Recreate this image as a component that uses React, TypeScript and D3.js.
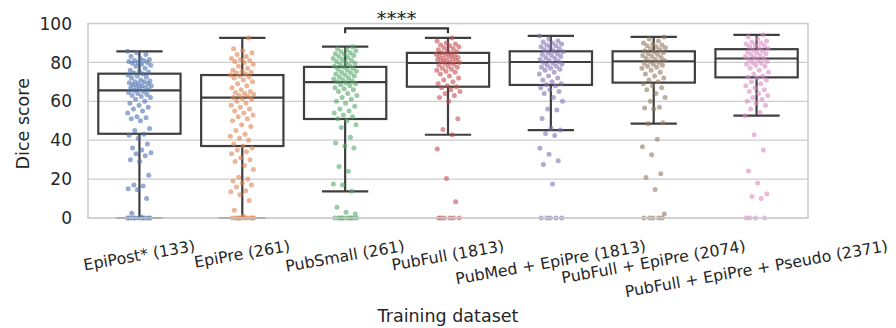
import * as d3 from 'd3';
import React, { useEffect } from 'react';

const categories = [
  'EpiPost* (133)',
  'EpiPre (261)',
  'PubSmall (261)',
  'PubFull (1813)',
  'PubMed + EpiPre (1813)',
  'PubFull + EpiPre (2074)',
  'PubFull + EpiPre + Pseudo (2371)',
];
const colors = ['#4c72b0', '#dd8452', '#55a868', '#c44e52', '#8172b3', '#937860', '#da8bc3'];

// box statistics
const whiskerLow = [0, 0, 13.7, 42.8, 45.2, 48.5, 52.6];
const q1 = [43.3, 37, 50.9, 67.5, 68.4, 69.6, 72.3];
const medians = [65.6, 61.9, 69.9, 79.7, 80.2, 80.6, 82];
const q3 = [74.2, 73.5, 77.7, 84.9, 85.7, 85.7, 86.8];
const whiskerHigh = [85.7, 92.6, 88.1, 92.6, 93.6, 93.1, 94.2];

// individual dice scores (strip points)
const epiPostScores = [
  0, 0, 0, 0, 0, 0, 0, 0, 0, 0.5, 2.5, 10, 14.5, 15, 16.5, 17, 22, 29, 30, 32, 33, 33.5, 35, 36, 38, 41, 42.5, 43,
  45, 46, 50, 51, 51.5, 52, 54, 55, 56, 57, 58, 59, 60, 61, 62, 62.5, 63, 63.5, 64, 64.5, 65, 65.5, 66, 66.5, 67, 67,
  67.5, 68, 68, 68.5, 69, 69, 69.5, 70, 70, 70.5, 71, 72, 72.5, 73, 73.5, 74, 74.5, 75, 75.5, 76, 77, 78, 78.5, 79,
  79.5, 80, 80, 80.5, 81, 81, 81.5, 82, 83, 84, 85, 85.7,
];
const epiPreScores = [
  0, 0, 0, 0, 0, 0, 0, 0, 0, 0, 1, 4, 9, 12, 13.5, 14, 16, 17, 18, 19, 20, 21, 25, 27, 29, 30, 31, 33, 34, 35, 36, 37,
  38, 40, 41, 42, 43, 45, 47, 48, 50, 51, 52, 53, 54, 55, 56, 57, 58, 59, 60, 61, 61.5, 62, 62.5, 63, 63.5, 64, 64.5,
  65, 66, 67, 68, 69, 70, 71, 72, 72.5, 73, 73.5, 74, 74.5, 75, 75.5, 76, 77, 78, 79, 80, 80.5, 81, 81.5, 82, 83, 84,
  85, 86, 87, 92.6,
];
const pubSmallScores = [
  0, 0, 0, 0, 0, 0, 0, 0, 0, 0, 2, 3, 5.5, 13.7, 17, 17.5, 24, 26.5, 36, 37, 38.5, 41.5, 46.5, 48, 50, 51, 52, 53, 54,
  55, 56, 57.5, 59, 60, 61, 62, 63, 64, 65, 66, 66.5, 67, 68, 68.5, 69, 69.5, 70, 70.5, 71, 71.5, 72, 72.5, 73, 73.5,
  74, 74.5, 75, 75.5, 76, 76.5, 77, 77.5, 78, 78.5, 79, 79.5, 80, 80.5, 81, 81.5, 82, 82.5, 83, 83.5, 84, 84.5, 85,
  85.5, 86, 86.5, 87, 88,
];
const pubFullScores = [
  0, 0, 0, 0, 0, 0, 8.4, 20.3, 35.5, 42.8, 45.5, 51, 60, 62, 63, 64, 65, 66, 67, 67.5, 68, 69, 70, 71, 72, 73, 74, 75,
  75.5, 76, 76.5, 77, 77.5, 78, 78.5, 79, 79.5, 80, 80, 80.5, 81, 81, 81.5, 82, 82, 82.5, 83, 83, 83.5, 84, 84, 84.5,
  85, 85.5, 86, 86.5, 87, 87.5, 88, 88.5, 89, 89.5, 90, 91, 92.6,
];
const pubMedEpiPreScores = [
  0, 0, 0, 0, 0, 17.5, 27.5, 29.4, 32.8, 35.9, 42.4, 43.4, 45.2, 46.2, 51.2, 55.5, 56, 60, 62, 64, 65, 66, 67, 68,
  68.5, 69, 70, 71, 72, 73, 74, 75, 76, 76.5, 77, 77.5, 78, 78.5, 79, 79.5, 80, 80.5, 81, 81.5, 82, 82.5, 83, 83.5, 84,
  84.5, 85, 85.5, 86, 86.5, 87, 87.5, 88, 88.5, 89, 89.5, 90, 90.5, 91, 92, 93.6,
];
const pubFullEpiPreScores = [
  0, 0, 0, 0, 0, 2, 14.6, 20.8, 22.8, 32.5, 36.6, 40.5, 48.5, 49, 56, 56.5, 57, 60, 62, 64, 66, 67, 68, 69, 70, 71, 72,
  73, 74, 75, 76, 77, 77.5, 78, 78.5, 79, 79.5, 80, 80.5, 81, 81.5, 82, 82.5, 83, 83.5, 84, 84.5, 85, 85.5, 86, 86.5,
  87, 87.5, 88, 88.5, 89, 89.5, 90, 91, 92, 93.1,
];
const pseudoScores = [
  0, 0, 0, 0, 10, 11, 12.3, 18, 24.2, 34.9, 42.8, 52.6, 54.3, 56, 58, 59, 60, 61, 62, 63, 64, 65, 66, 67, 68, 69, 70,
  71, 72, 72.5, 73, 74, 75, 76, 77, 78, 78.5, 79, 79.5, 80, 80.5, 81, 81.5, 82, 82.5, 83, 83.5, 84, 84.5, 85, 85.5, 86,
  86.5, 87, 87.5, 88, 88.5, 89, 89.5, 90, 90.5, 91, 92, 93, 94.2,
];
const allScores = [
  epiPostScores,
  epiPreScores,
  pubSmallScores,
  pubFullScores,
  pubMedEpiPreScores,
  pubFullEpiPreScores,
  pseudoScores,
];

const yTicks = [0, 20, 40, 60, 80, 100];
// significance bracket between PubSmall and PubFull
const sigPair = [2, 3];
const sigLabel = '****';

export default function App() {
  const ref = React.useRef<HTMLDivElement>(null);

  useEffect(() => {
    if (!ref.current) return;
    document.body.style.margin = '0';
    ref.current.innerHTML = '';

    const W = 896;
    const H = 328;
    const margin = { top: 23.5, right: 88, bottom: 110, left: 88 };
    const plotW = W - margin.left - margin.right;
    const plotH = H - margin.top - margin.bottom;
    const font = 'DejaVu Sans, sans-serif';
    const textColor = '#262626';
    const lineColor = '#3f3f3f';

    const x = d3.scaleBand().domain(categories).range([margin.left, margin.left + plotW]);
    const y = d3.scaleLinear().domain([0, 100]).range([margin.top + plotH, margin.top]);
    const bw = x.bandwidth();

    const svg = d3
      .select(ref.current)
      .append('svg')
      .attr('width', W)
      .attr('height', H)
      .style('display', 'block')
      .style('font-family', font);

    // grid
    svg
      .append('g')
      .selectAll('line')
      .data(yTicks)
      .enter()
      .append('line')
      .attr('x1', margin.left)
      .attr('x2', margin.left + plotW)
      .attr('y1', d => y(d))
      .attr('y2', d => y(d))
      .attr('stroke', '#cccccc')
      .attr('stroke-width', 1.2);

    // boxes
    const boxes = svg
      .append('g')
      .selectAll('g')
      .data(categories)
      .enter()
      .append('g')
      .attr('fill', 'none')
      .attr('stroke', lineColor)
      .attr('stroke-width', 2.2);
    const boxW = bw * 0.8;
    const capW = bw * 0.45;
    boxes
      .append('rect')
      .attr('x', d => x(d)! + (bw - boxW) / 2)
      .attr('width', boxW)
      .attr('y', (d, i) => y(q3[i]))
      .attr('height', (d, i) => y(q1[i]) - y(q3[i]));
    boxes
      .append('line')
      .attr('x1', d => x(d)! + (bw - boxW) / 2)
      .attr('x2', d => x(d)! + (bw + boxW) / 2)
      .attr('y1', (d, i) => y(medians[i]))
      .attr('y2', (d, i) => y(medians[i]));
    // whiskers
    boxes
      .append('line')
      .attr('x1', d => x(d)! + bw / 2)
      .attr('x2', d => x(d)! + bw / 2)
      .attr('y1', (d, i) => y(q3[i]))
      .attr('y2', (d, i) => y(whiskerHigh[i]));
    boxes
      .append('line')
      .attr('x1', d => x(d)! + bw / 2)
      .attr('x2', d => x(d)! + bw / 2)
      .attr('y1', (d, i) => y(q1[i]))
      .attr('y2', (d, i) => y(whiskerLow[i]));
    // caps
    [whiskerHigh, whiskerLow].forEach(w => {
      boxes
        .append('line')
        .attr('x1', d => x(d)! + (bw - capW) / 2)
        .attr('x2', d => x(d)! + (bw + capW) / 2)
        .attr('y1', (d, i) => y(w[i]))
        .attr('y2', (d, i) => y(w[i]));
    });

    // strip points (deterministic jitter)
    const jitter = 12;
    allScores.forEach((scores, c) => {
      const cx = x(categories[c])! + bw / 2;
      svg
        .append('g')
        .selectAll('circle')
        .data(scores)
        .enter()
        .append('circle')
        .attr('cx', (d, i) => cx + (((i * 0.618034 + c * 0.37) % 1) - 0.5) * 2 * jitter)
        .attr('cy', d => y(d))
        .attr('r', 2.5)
        .attr('fill', colors[c])
        .attr('fill-opacity', 0.6);
    });

    // spines
    svg
      .append('rect')
      .attr('x', margin.left)
      .attr('y', margin.top)
      .attr('width', plotW)
      .attr('height', plotH)
      .attr('fill', 'none')
      .attr('stroke', '#cccccc')
      .attr('stroke-width', 1.6);

    // y ticks
    svg
      .append('g')
      .selectAll('text')
      .data(yTicks)
      .enter()
      .append('text')
      .attr('x', margin.left - 16)
      .attr('y', d => y(d))
      .attr('dy', '0.36em')
      .attr('text-anchor', 'end')
      .attr('font-size', 17)
      .attr('fill', textColor)
      .text(d => d);

    // x tick labels rotated 10deg, bbox top aligned
    const theta = (10 * Math.PI) / 180;
    const xs = 15.8;
    const top = 239;
    svg
      .append('g')
      .selectAll('text')
      .data(categories)
      .enter()
      .append('text')
      .attr('font-size', xs)
      .attr('fill', textColor)
      .attr('text-anchor', 'middle')
      .attr('dy', `${0.26}em`)
      .text(d => d)
      .each(function (d) {
        const el = this as SVGTextElement;
        const w = el.getComputedTextLength();
        const h = xs;
        const cx = x(d)! + bw / 2;
        const cy = top + (w / 2) * Math.sin(theta) + (h / 2) * Math.cos(theta);
        d3.select(el).attr('transform', `translate(${cx},${cy}) rotate(-10)`);
      });

    // axis titles
    svg
      .append('text')
      .attr('x', margin.left + plotW / 2)
      .attr('y', 322)
      .attr('text-anchor', 'middle')
      .attr('font-size', 17.5)
      .attr('fill', textColor)
      .text('Training dataset');
    svg
      .append('text')
      .attr('transform', `translate(28.5,${margin.top + plotH / 2 + 3}) rotate(-90)`)
      .attr('text-anchor', 'middle')
      .attr('font-size', 17.5)
      .attr('fill', textColor)
      .text('Dice score');

    // significance annotation
    const sx1 = x(categories[sigPair[0]])! + bw / 2;
    const sx2 = x(categories[sigPair[1]])! + bw / 2;
    const barY = 28.3;
    svg
      .append('path')
      .attr('d', `M${sx1},${barY + 5}V${barY}H${sx2}V${barY + 5}`)
      .attr('fill', 'none')
      .attr('stroke', '#333333')
      .attr('stroke-width', 2.2);
    svg
      .append('text')
      .attr('x', (sx1 + sx2) / 2)
      .attr('y', 25)
      .attr('text-anchor', 'middle')
      .attr('font-size', 20)
      .attr('fill', textColor)
      .text(sigLabel);
  }, []);

  return <div ref={ref}></div>;
}
